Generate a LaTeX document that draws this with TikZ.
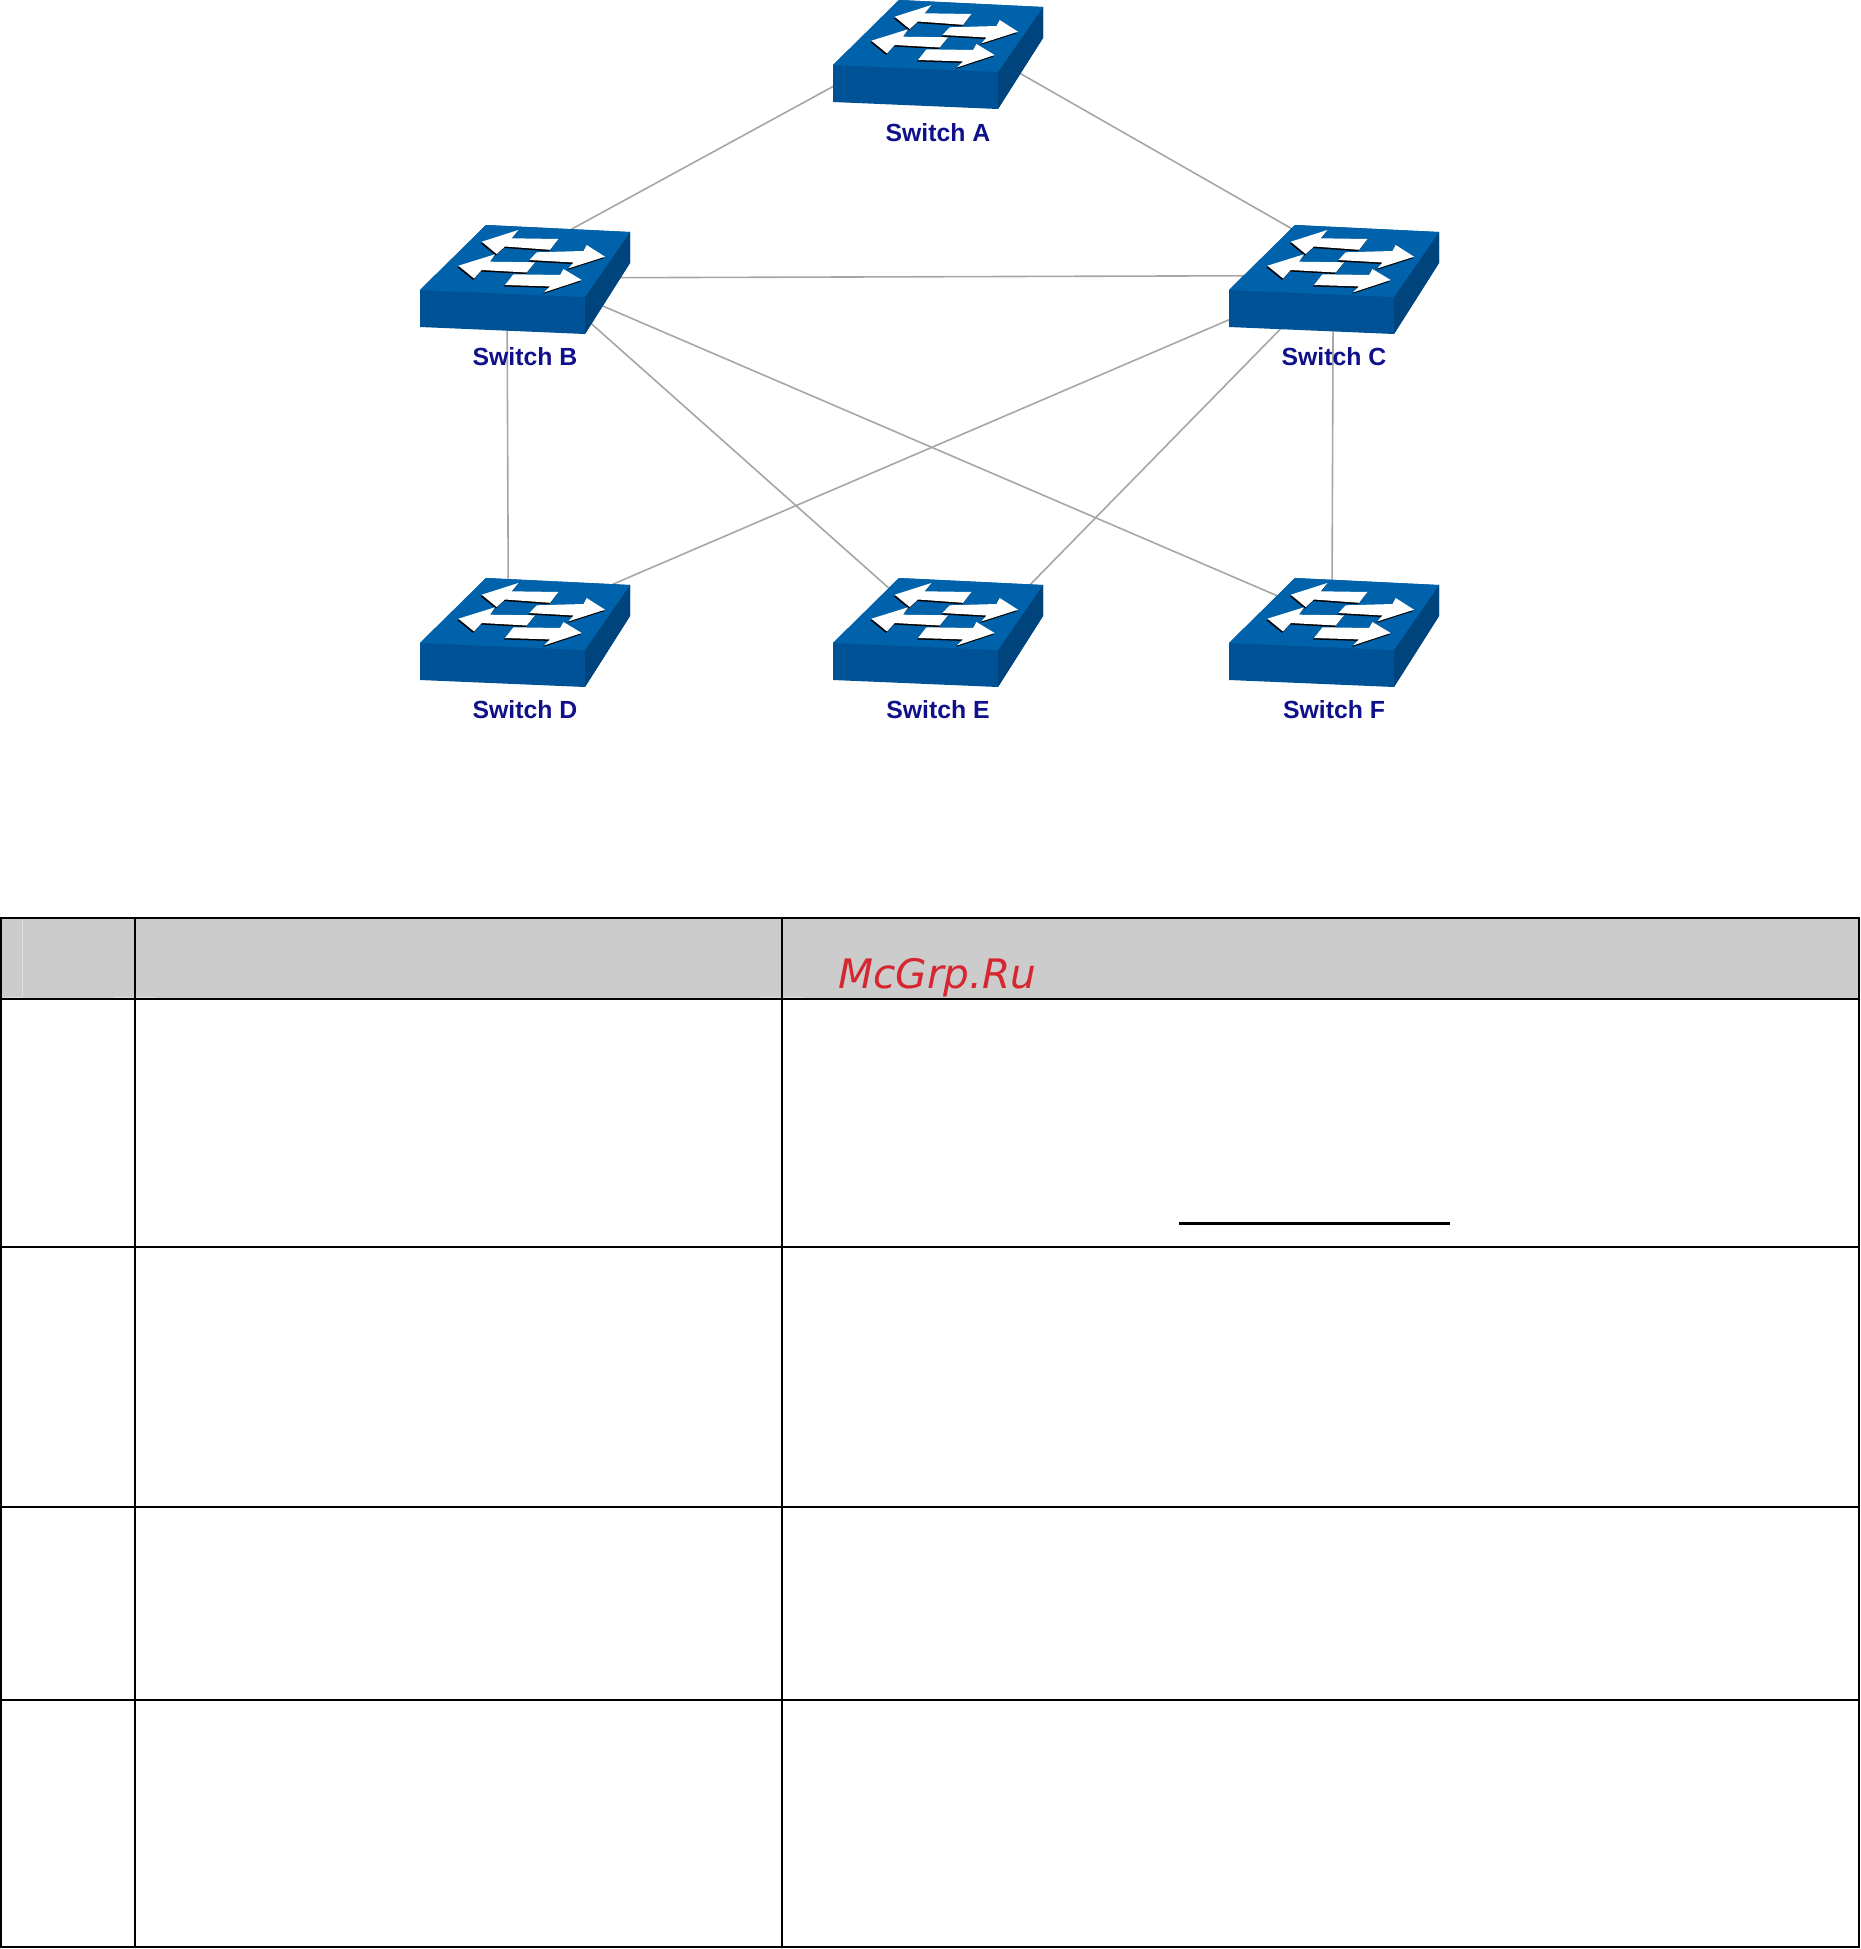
\documentclass[tikz,border=0pt]{standalone}
\usepackage{fontspec}
\setmainfont{Liberation Sans}
\newfontfamily\markfont{DejaVu Sans}
\usepackage{tikz}
\usetikzlibrary{positioning}
\definecolor{swtop}{RGB}{0,98,170}
\definecolor{swfront}{RGB}{0,82,150}
\definecolor{swside}{RGB}{0,68,125}
\definecolor{swtext}{RGB}{16,16,138}
\definecolor{wmred}{RGB}{214,38,48}
\newcommand{\switcharrow}[1]{
    \fill [black,shift={(-1,1.5)}] #1 -- cycle;
    \fill [white] #1 -- cycle;
}
\tikzset{
    swbox/.style={minimum width=105pt,minimum height=54.5pt,inner sep=0pt},
    swlabel/.style={font=\bfseries\fontsize{12.4}{14}\selectfont,text=swtext,anchor=base,inner sep=0pt},
    link/.style={draw=black!35,line width=0.8pt,shorten <=-30pt,shorten >=-30pt},
    rule/.style={black,line width=1.15pt},
    faint/.style={black!12,line width=0.5pt},
    pics/switchicon/.style={code={
        \begin{scope}[shift={(-105,10.5)}]
            \fill [swfront] (0,0) -- (66,-65) -- (210,-58) -- (210,-27) -- (165,44) -- (0,37) -- cycle;
            \fill [swside] (165,7) -- (210,-58) -- (210,-27) -- (165,44) -- cycle;
            \fill [swtop] (0,0) -- (66,-65) -- (210,-58) -- (165,7) -- cycle;
            \switcharrow{(61.7,-48.3) -- (98.4,-60) -- (91.7,-51.7) -- (138.4,-51) -- (130,-40.2) -- (85,-43.5) -- (76.7,-36)}
            \switcharrow{(185,-33.3) -- (166.7,-45) -- (163.4,-39) -- (116.7,-37.7) -- (109.4,-30) -- (153.4,-27.5) -- (148.4,-21.6)}
            \switcharrow{(38.4,-24.3) -- (75,-35.7) -- (70,-28.3) -- (115,-27.7) -- (106.7,-17.5) -- (61.7,-20) -- (54,-11.6)}
            \switcharrow{(161.7,-10) -- (143.4,-21) -- (140,-15) -- (93.4,-15.7) -- (85,-5) -- (130,-3.6) -- (124,2.4)}
        \end{scope}
    }}
}
\begin{document}
\begin{tikzpicture}[x=0.5pt,y=-0.5pt]
    \useasboundingbox (0,0) rectangle (1860,1949);
    % switches
    \node (swA) [swbox] at (938,54.5) {};
    \node (swB) [swbox] at (525,279.5) {};
    \node (swC) [swbox] at (1334,279.5) {};
    \node (swD) [swbox] at (525,632.5) {};
    \node (swE) [swbox] at (938,632.5) {};
    \node (swF) [swbox] at (1334,632.5) {};
    % links
    \draw [link] (swA.197.1) -- (swB.45.7);
    \draw [link] (swA.343.8) -- (swC.132);
    \draw [link] (swB.1.7) -- (swC.178.3);
    \draw [link] (swB.252.4) -- (swD.107.2);
    \draw [link] (swB.325.9) -- (swE.138.1);
    \draw [link] (swB.340.5) -- (swF.151.5);
    \draw [link] (swC.201.6) -- (swD.28.5);
    \draw [link] (swC.223) -- (swE.29.2);
    \draw [link] (swC.269.3) -- (swF.92);
    \foreach \sw in {swA,swB,swC,swD,swE,swF}
        \pic at (\sw) {switchicon};
    \node (labA) [swlabel] at ([yshift=-16pt]swA.south) {Switch A};
    \node (labB) [swlabel] at ([yshift=-15.5pt]swB.south) {Switch B};
    \node (labC) [swlabel] at ([yshift=-15.5pt]swC.south) {Switch C};
    \node (labD) [swlabel] at ([yshift=-15.5pt]swD.south) {Switch D};
    \node (labE) [swlabel] at ([yshift=-15.5pt]swE.south) {Switch E};
    \node (labF) [swlabel] at ([yshift=-15.5pt]swF.south) {Switch F};
    % table
    \fill [black!20] (1,918) rectangle (1859,999);
    \draw [faint] (22,918) -- (22,997);
    \draw [faint] (1,997) -- (22,997);
    \draw [faint] (114,997) -- (156,997);
    \draw [faint] (760,997) -- (804,997);
    \foreach \y in {918,999,1247,1507,1700,1947}
        \draw [rule] (0,\y) -- (1860,\y);
    \foreach \x in {1,135,782,1859}
        \draw [rule] (\x,917) -- (\x,1948);
    \draw [black,line width=1.5pt] (1179,1223.5) -- (1450,1223.5);
    \node (mark) [anchor=base west,inner sep=0pt,text=wmred] at (838,988) {\markfont\itshape\fontsize{20.3}{24}\selectfont McGrp.Ru};
\end{tikzpicture}
\end{document}
